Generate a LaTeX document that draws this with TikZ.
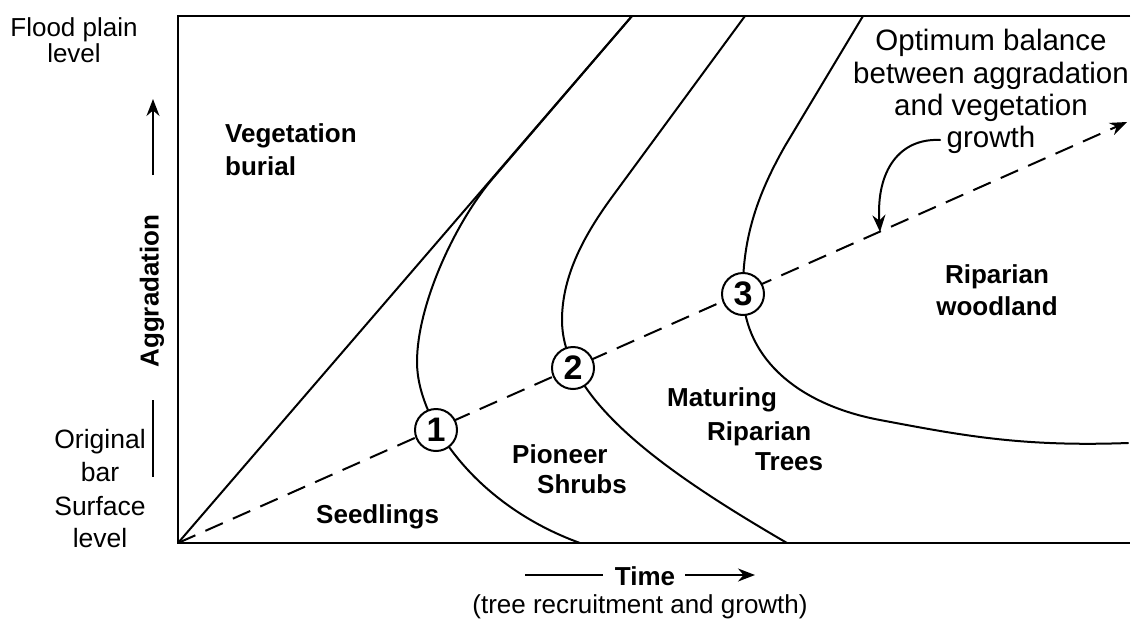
\documentclass[tikz,border=0pt]{standalone}
\usepackage{fontspec}
\setmainfont{Liberation Sans}
\usetikzlibrary{arrows.meta}
\tikzset{
  frameline/.style={line width=2.6pt},
  bound/.style={line width=2pt, line join=round, line cap=round},
  dashline/.style={line width=2pt, dash pattern=on 19pt off 11pt},
  tip/.style={-{Stealth[length=17pt,width=13pt]}},
  reg/.style={font=\fontsize{#1}{#1}\selectfont, inner sep=0pt, anchor=base},
  lab/.style={font=\bfseries\fontsize{26}{26}\selectfont, inner sep=0pt, anchor=base west},
  stage/.style={circle, draw, line width=2pt, fill=white, minimum size=42pt, inner sep=0pt,
    font=\bfseries\fontsize{34}{34}\selectfont},
}
\begin{document}
\begin{tikzpicture}[x=1pt,y=-1pt]
\useasboundingbox (0,0) rectangle (1139,624);
% frame
\coordinate (O) at (178,543);
\coordinate (TL) at (178,16);
\coordinate (TR) at (1130,16);
\coordinate (BR) at (1130,543);
\draw[frameline] (TR) -- (TL) -- (O) -- (BR);
% burial line
\coordinate (D) at (632,16);
\draw[bound] (O) -- (D);
% boundary curves
\draw[bound] (632,16) -- (494,177)
  .. controls (455,222) and (417,305) .. (417,362)
  .. controls (417,420) and (475,505) .. (580,543);
\draw[bound] (745,16) -- (612,197)
  .. controls (585,234) and (562,275) .. (562,320)
  .. controls (562,400) and (665,472) .. (787,543);
\draw[bound] (863,16) -- (785,146)
  .. controls (760,190) and (742,235) .. (743,294)
  .. controls (745,360) and (800,405) .. (880,420)
  .. controls (960,435) and (1020,447) .. (1128,443);
% dashed optimum line
\coordinate (E) at (1127,122);
\draw[dashline, tip] (O) -- (E);
% stages
\node[stage] (s1) at (436,430) {1};
\node[stage] (s2) at (573,368) {2};
\node[stage] (s3) at (743,294) {3};
% region labels
\node[lab] (veg1) at (225,142) {Vegetation};
\node[lab] (veg2) at (225,175) {burial};
\node[lab] (seed) at (316,523) {Seedlings};
\node[lab] (pio1) at (512,463) {Pioneer};
\node[lab] (pio2) at (537,493) {Shrubs};
\node[lab] (mat1) at (667,406) {Maturing};
\node[lab] (mat2) at (707,440) {Riparian};
\node[lab] (mat3) at (755,470) {Trees};
\node[lab, anchor=base] (rip1) at (997,283) {Riparian};
\node[lab, anchor=base] (rip2) at (997,315) {woodland};
% optimum note
\node[reg=29.5] (op1) at (991,50) {Optimum balance};
\node[reg=29.5] (op2) at (991,83) {between aggradation};
\node[reg=29.5] (op3) at (991,115) {and vegetation};
\node[reg=29.5] (op4) at (991,147) {growth};
\coordinate (cs) at (940,140);
\coordinate (ct) at (880,232);
\draw[bound, tip] (cs) .. controls (900,138) and (876,170) .. (ct);
% y axis labels
\node[reg=26] (fp1) at (74,36) {Flood plain};
\node[reg=26] (fp2) at (74,62) {level};
\coordinate (ua1) at (153,175);
\coordinate (ua2) at (153,99);
\draw[bound, line cap=butt, tip] (ua1) -- (ua2);
\node[font=\bfseries\fontsize{26}{26}\selectfont, rotate=90, inner sep=0pt] (agg) at (152,291) {Aggradation};
\coordinate (bar1) at (153,400);
\coordinate (bar2) at (153,477);
\draw[bound, line cap=butt] (bar1) -- (bar2);
\node[reg=26.5] (ob1) at (100,448) {Original};
\node[reg=26.5] (ob2) at (100,481) {bar};
\node[reg=26.5] (ob3) at (100,515) {Surface};
\node[reg=26.5] (ob4) at (100,547) {level};
% x axis labels
\node[font=\bfseries\fontsize{26}{26}\selectfont, inner sep=0pt, anchor=base] (time) at (645,585) {Time};
\coordinate (tl) at (525,575);
\coordinate (tr) at (755,575);
\draw[bound, line cap=butt] (tl) -- ([xshift=-12pt]time.west |- tl);
\draw[bound, line cap=butt, tip] ([xshift=10pt]time.east |- tr) -- (tr);
\node[reg=26] (trg) at (640,613) {(tree recruitment and growth)};
\end{tikzpicture}
\end{document}
